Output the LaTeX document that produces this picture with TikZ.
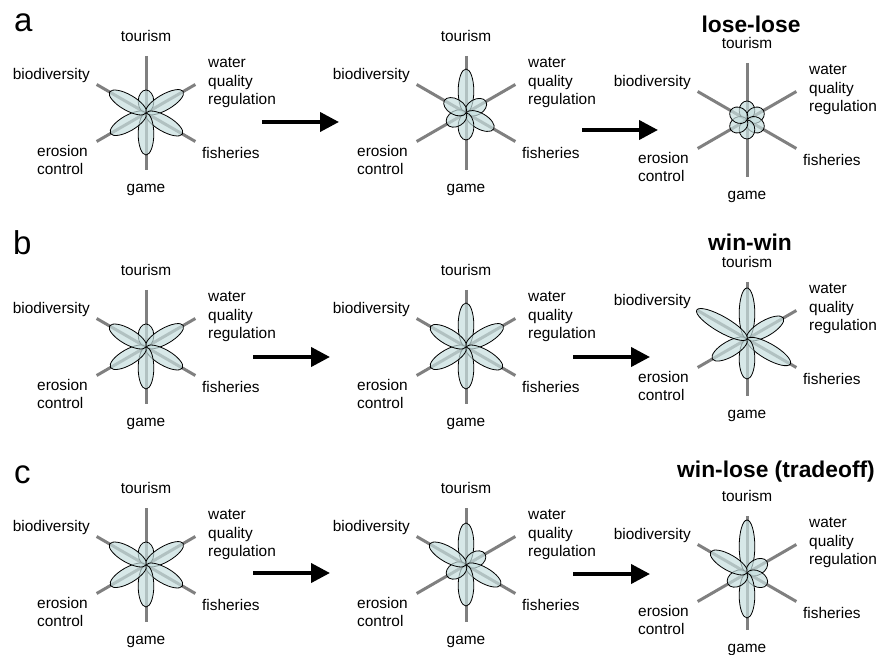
\documentclass[tikz,border=0pt]{standalone}
\usepackage{fontspec}
\setmainfont{Liberation Sans}
\usetikzlibrary{arrows.meta}

\definecolor{petalfill}{RGB}{198,222,222}
\definecolor{spokegray}{RGB}{128,128,128}

% one flower: name, centre, petal lengths (tourism, water, fisheries, game, erosion, biodiversity)
\newcommand{\flower}[8]{%
  \coordinate (#1) at (#2);
  \begin{scope}[shift={(#1)}]
    \foreach \ang in {90,30,-30}
      \draw[spoke] (\ang:57) -- ({\ang+180}:57);
    \foreach \ang/\len in {90/#3,30/#4,-30/#5,-90/#6,210/#7,150/#8}
      \draw[petal, rotate=\ang] (\len/2,0) ellipse ({\len*0.5pt} and 7.8pt);
    \node[lbl] (#1-tour) at (0,77) {tourism};
    \node[lbl, anchor=east] (#1-bio) at (-56,37) {biodiversity};
    \node[lbl, anchor=west, align=left] (#1-wat) at (62,30) {water\\quality\\regulation};
    \node[lbl, anchor=west] (#1-fish) at (56,-40) {fisheries};
    \node[lbl, anchor=west, align=left] (#1-ero) at (-109,-47) {erosion\\control};
    \node[lbl] (#1-game) at (0,-77) {game};
  \end{scope}}

\begin{document}
\begin{tikzpicture}[x=1pt, y=1pt,
    spoke/.style = {draw=spokegray, line width=3pt},
    petal/.style = {draw=black, line width=0.8pt, fill=petalfill, fill opacity=0.7},
    lbl/.style = {font=\fontsize{15.4}{18.4}\selectfont, inner sep=0pt},
    title/.style = {font=\bfseries\fontsize{22.8}{26}\selectfont, inner sep=0pt},
    panel/.style = {font=\fontsize{33}{36}\selectfont, inner sep=0pt},
    bigarrow/.style = {line width=4pt, -{Triangle[length=19pt,width=19pt]}}]
    \useasboundingbox (0,0) rectangle (886,654);

    % row a
    \node[panel, anchor=base west] (pa) at (14,622) {a};
    \flower{a1}{146,541}{23}{43}{42}{42}{41}{42}
    \flower{a2}{466,541}{44}{23}{32}{27}{22}{25}
    \flower{a3}{747,534}{19}{19}{19}{19}{19}{19}
    \node[title] (ta) at (751,630) {lose-lose};
    \coordinate (a12s) at (262,532);
    \coordinate (a12e) at (339,532);
    \coordinate (a23s) at (582,524);
    \coordinate (a23e) at (658,524);
    \draw[bigarrow] (a12s) -- (a12e);
    \draw[bigarrow] (a23s) -- (a23e);

    % row b
    \node[panel, anchor=base west] (pb) at (13,399) {b};
    \flower{b1}{146,307}{23}{43}{42}{42}{41}{42}
    \flower{b2}{466,307}{44}{43}{42}{42}{41}{41}
    \flower{b3}{747,315}{51}{42}{50}{40}{40}{58}
    \node[title] (tb) at (750,412) {win-win};
    \coordinate (b12s) at (253,297);
    \coordinate (b12e) at (330,297);
    \coordinate (b23s) at (573,297);
    \coordinate (b23e) at (650,297);
    \draw[bigarrow] (b12s) -- (b12e);
    \draw[bigarrow] (b23s) -- (b23e);

    % row c
    \node[panel, anchor=base west] (pc) at (14,171) {c};
    \flower{c1}{146,89}{23}{43}{42}{42}{41}{42}
    \flower{c2}{466,89}{42}{22}{40}{41}{22}{42}
    \flower{c3}{747,81}{53}{23}{23}{45}{22}{42}
    \node[title] (tc) at (776,182) {win-lose (tradeoff)};
    \coordinate (c12s) at (253,81);
    \coordinate (c12e) at (330,81);
    \coordinate (c23s) at (573,80);
    \coordinate (c23e) at (650,80);
    \draw[bigarrow] (c12s) -- (c12e);
    \draw[bigarrow] (c23s) -- (c23e);
\end{tikzpicture}
\end{document}
